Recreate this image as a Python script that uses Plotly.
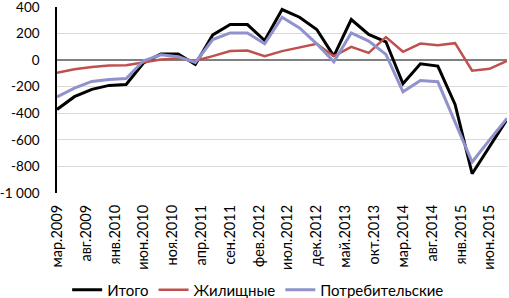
import plotly.graph_objects as go
import pandas as pd

dates = pd.date_range("2009-03-01", "2015-09-01", freq="3MS").strftime("%Y-%m-%d").tolist()

itogo = [-371, -275, -220, -190, -183, -20, 47, 47, -33, 190, 268, 268, 148, 381, 323,
         231, 30, 306, 193, 138, -178, -28, -45, -333, -855, -650, -446]
zhil = [-95, -68, -52, -40, -38, -15, 5, 13, -5, 30, 68, 73, 30, 68, 93,
        123, 30, 100, 55, 173, 63, 125, 113, 128, -80, -65, -5]
potreb = [-276, -210, -160, -145, -138, -5, 40, 25, -18, 155, 205, 205, 123, 323, 243,
          123, -13, 205, 143, 43, -238, -153, -163, -460, -767, -600, -438]

tick_dates = pd.date_range("2009-03-01", "2015-06-01", freq="5MS").strftime("%Y-%m-%d").tolist()
tick_text = ["мар.2009", "авг.2009", "янв.2010", "июн.2010", "ноя.2010", "апр.2011",
             "сен.2011", "фев.2012", "июл.2012", "дек.2012", "май.2013", "окт.2013",
             "мар.2014", "авг.2014", "янв.2015", "июн.2015"]
y_ticks = [400, 200, 0, -200, -400, -600, -800, -1000]
y_text = ["400", "200", "0", "-200", "-400", "-600", "-800", "-1 000"]

fig = go.Figure()
fig.add_trace(go.Scatter(x=dates, y=itogo, name="Итого", mode="lines",
                         line=dict(color="#000000", width=3)))
fig.add_trace(go.Scatter(x=dates, y=zhil, name="Жилищные", mode="lines",
                         line=dict(color="#C0504D", width=2.5)))
fig.add_trace(go.Scatter(x=dates, y=potreb, name="Потребительские", mode="lines",
                         line=dict(color="#8F92CC", width=3)))

fig.update_layout(
    width=509, height=298,
    margin=dict(l=57, r=2, t=7, b=105, autoexpand=False),
    paper_bgcolor="white", plot_bgcolor="white",
    font=dict(family="Lato, Liberation Sans, sans-serif", size=15, color="#000000"),
    showlegend=True,
    legend=dict(orientation="h", x=0.447, xanchor="center", y=-0.522, yanchor="middle",
                font=dict(size=15), itemwidth=30, traceorder="normal"),
    xaxis=dict(type="date", range=[dates[0], dates[-1]], tickmode="array",
               tickvals=tick_dates, ticktext=tick_text, tickangle=-90,
               tickfont=dict(size=14.5), showgrid=False, showline=False,
               zeroline=False, ticks="", ticklabelstandoff=8, automargin=False),
    yaxis=dict(range=[-1000, 400], tickmode="array", tickvals=y_ticks, ticktext=y_text,
               showgrid=True, gridcolor="#D9D9D9", gridwidth=1,
               zeroline=True, zerolinecolor="#808080", zerolinewidth=2,
               showline=True, linecolor="#000000", linewidth=1.5, automargin=False,
               ticks="", ticklabelstandoff=13, tickfont=dict(size=13.5),
               ticklabeloverflow="allow"),
)

fig.write_html("out.html", config={"displayModeBar": False},
               post_script="document.body.style.margin='0px';document.body.style.overflow='hidden';")
